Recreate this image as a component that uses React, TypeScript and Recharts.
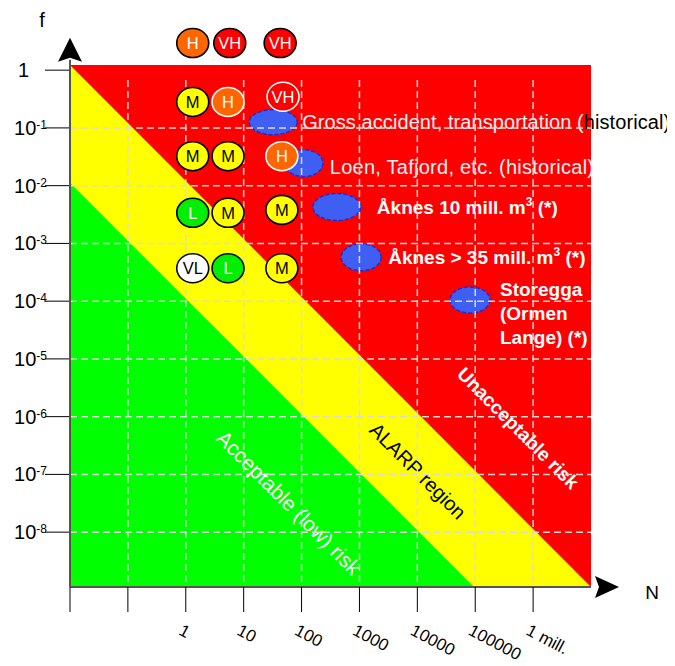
import { Area, ComposedChart, ReferenceDot, ReferenceLine, Scatter, XAxis, YAxis } from "recharts";

const FONT = '"Liberation Sans", Arial, Helvetica, sans-serif';

// both axes are log10 values: x = log10(N), y = log10(f)
const xTicks = [-2, -1, 0, 1, 2, 3, 4, 5, 6];
const xTickLabels = ["", "", "1", "10", "100", "1000", "10000", "100000", "1 mill."];
const yTicks = [0, -1, -2, -3, -4, -5, -6, -7, -8];
const gridLogN = [-1, 0, 1, 2, 3, 4, 5, 6];
const gridLogF = [-1, -2, -3, -4, -5, -6, -7, -8];

const logNMin = -2;
const logNMax = 7;
const logFMin = -8.95;
const logFTop = 0.09; // top edge of the coloured field
const logFChartTop = 0.9;
const logFArrowBase = 0.18;
const gridTop = -0.17;

// boundaries of the three zones
const unacceptableEdge = [
  { logN: -2, logF: 0.09 },
  { logN: 7, logF: 0.09 },
];
const alarpEdge = [
  { logN: -2, logF: 0.09 },
  { logN: 7, logF: -8.95 },
];
const acceptableEdge = [
  { logN: -2, logF: -1.95 },
  { logN: 4.98, logF: -8.95 },
];

// risk matrix bubbles
const riskLevels = ["H", "VH", "VH", "M", "H", "VH", "M", "M", "H", "L", "M", "M", "VL", "L", "M"];
const riskLogN = [0.12, 0.76, 1.63, 0.12, 0.73, 1.68, 0.12, 0.73, 1.66, 0.12, 0.73, 1.66, 0.12, 0.73, 1.66];
const riskLogF = [0.47, 0.47, 0.47, -0.55, -0.55, -0.46, -1.49, -1.49, -1.49, -2.47, -2.47, -2.42, -3.43, -3.43, -3.43];

// scenarios (blue blobs)
const scenarioNames = [
  "Gross accident, transportation (historical)",
  "Loen, Tafjord, etc. (historical)",
  "Åknes 10 mill. m3 (*)",
  "Åknes > 35 mill. m3 (*)",
  "Storegga (Ormen Lange) (*)",
];
const scenarioLogN = [1.51, 2.04, 2.61, 3.03, 4.91];
const scenarioLogF = [-0.9, -1.61, -2.37, -3.24, -3.98];

const regionNames = ["Unacceptable risk", "ALARP region", "Acceptable (low) risk"];
const regionLogN = [5.74, 4.01, 1.78];
const regionLogF = [-6.2, -6.94, -7.49];

const riskData = riskLevels.map((level, i) => ({ level, logN: riskLogN[i], logF: riskLogF[i] }));
const scenarioData = scenarioNames.map((name, i) => ({ name, i, logN: scenarioLogN[i], logF: scenarioLogF[i] }));
const regionData = regionNames.map((name, i) => ({ name, i, logN: regionLogN[i], logF: regionLogF[i] }));

const riskFill: Record<string, string> = { VH: "#ff0000", H: "#ff6600", M: "#ffff00", L: "#00ee00", VL: "#ffffff" };
const riskText: Record<string, string> = { VH: "#ffffff", H: "#ffffff", M: "#000000", L: "#ffffff", VL: "#000000" };

const blobSize = [
  [24, 12.5],
  [19, 13.5],
  [24, 13.5],
  [20, 13.5],
  [20, 13],
];

function RiskBubble(props: any) {
  const { cx, cy, payload } = props;
  const level = payload.level;
  const inField = payload.logF < logFTop && (level === "H" || level === "VH");
  return (
    <g>
      <ellipse cx={cx} cy={cy} rx={16} ry={14.5} fill={riskFill[level]} stroke={inField ? "#ffffff" : "#000000"} strokeWidth={1.6} />
      <text x={cx} y={cy + 6} textAnchor="middle" fontSize={16.5} fontFamily={FONT} fill={riskText[level]}>
        {level}
      </text>
    </g>
  );
}

function ScenarioLabel({ i, cx, cy }: { i: number; cx: number; cy: number }) {
  const regular = { fontFamily: FONT, fontSize: 20, fill: "#f2f2f2" };
  const bold = { fontFamily: FONT, fontSize: 19, fontWeight: 700, fill: "#ffffff" };
  if (i === 0) {
    return (
      <text x={cx + 29} y={cy + 7} letterSpacing={0.08} {...regular}>
        Gross accident, transportation (<tspan fill="#000000">historical)</tspan>
      </text>
    );
  }
  if (i === 1) {
    return (
      <text x={cx + 26} y={cy + 11} letterSpacing={0.25} {...regular}>
        Loen, Tafjord, etc. (historical)
      </text>
    );
  }
  if (i === 2 || i === 3) {
    const head = i === 2 ? "Åknes 10 mill. m" : "Åknes > 35 mill. m";
    return (
      <text x={cx + (i === 2 ? 40 : 27)} y={cy + 7} {...bold}>
        {head}
        <tspan dy={-8} fontSize={12}>3</tspan>
        <tspan dy={8}> (*)</tspan>
      </text>
    );
  }
  return (
    <text x={cx + 30} y={cy - 4} {...bold}>
      <tspan x={cx + 30}>Storegga</tspan>
      <tspan x={cx + 30} dy={24}>(Ormen</tspan>
      <tspan x={cx + 30} dy={24}>Lange) (*)</tspan>
    </text>
  );
}

function ScenarioBlob(props: any) {
  const { cx, cy, payload } = props;
  const [rx, ry] = blobSize[payload.i];
  return (
    <g>
      <ellipse cx={cx} cy={cy} rx={rx} ry={ry} fill="#3f5ff2" stroke="#1530d8" strokeWidth={1.5} strokeDasharray="4 2" />
      <ScenarioLabel i={payload.i} cx={cx} cy={cy} />
    </g>
  );
}

function RegionLabel(props: any) {
  const { cx, cy, payload } = props;
  const styles = [
    { fill: "#ffffff", fontWeight: 700, fontSize: 19 },
    { fill: "#000000", fontWeight: 400, fontSize: 20 },
    { fill: "#ffffff", fontWeight: 400, fontSize: 21 },
  ][payload.i];
  return (
    <text
      transform={`translate(${cx},${cy}) rotate(45)`}
      textAnchor="middle"
      dominantBaseline="central"
      fontFamily={FONT}
      {...styles}
    >
      {payload.name}
    </text>
  );
}

function YTick(props: any) {
  const { x, y, payload } = props;
  if (payload.value === 0) {
    return (
      <text x={x - 14} y={y + 7} textAnchor="end" fontSize={20} fontFamily={FONT} fill="#000">
        1
      </text>
    );
  }
  return (
    <text x={x + 4} y={y + 7} textAnchor="end" fontSize={20} fontFamily={FONT} fill="#000">
      10<tspan dy={-6} fontSize={12}>{payload.value}</tspan>
    </text>
  );
}

function XTick(props: any) {
  const { x, y, payload } = props;
  const label = xTickLabels[xTicks.indexOf(payload.value)];
  return (
    <text transform={`translate(${x - 8},${y + 20}) rotate(28)`} fontSize={17} fontFamily={FONT} fill="#000">
      {label}
    </text>
  );
}

function UpArrow(props: any) {
  const { cx, cy } = props;
  return (
    <g>
      <polygon points={`${cx},${cy - 22} ${cx + 12},${cy + 2} ${cx},${cy - 2} ${cx - 12},${cy + 2}`} fill="#000" />
      <text x={cx - 28} y={cy - 33} textAnchor="middle" fontSize={20} fontFamily={FONT} fill="#000">
        f
      </text>
    </g>
  );
}

function RightArrow(props: any) {
  const { cx, cy } = props;
  return (
    <g>
      <polygon points={`${cx + 4},${cy - 11} ${cx + 28},${cy} ${cx + 4},${cy + 11} ${cx + 8},${cy}`} fill="#000" />
      <text x={cx + 61} y={cy + 12} textAnchor="middle" fontSize={19} fontFamily={FONT} fill="#000">
        N
      </text>
    </g>
  );
}

const gridStroke = { stroke: "#dadada", strokeWidth: 1.5, strokeDasharray: "7 4" };

export default function App() {
  return (
    <div style={{ width: 667, height: 658, fontFamily: FONT }}>
      <ComposedChart width={667} height={658} margin={{ top: 10.2, right: 84, bottom: 9, left: 12 }}>
        <XAxis
          type="number"
          dataKey="logN"
          domain={[logNMin, logNMax]}
          ticks={xTicks}
          interval={0}
          height={70}
          tickSize={25}
          tick={<XTick />}
          axisLine={{ stroke: "#555", strokeWidth: 2 }}
          tickLine={{ stroke: "#000", strokeWidth: 1 }}
        />
        <YAxis
          type="number"
          dataKey="logF"
          domain={[logFMin, logFChartTop]}
          ticks={yTicks}
          interval={0}
          width={50}
          tickSize={25}
          tick={<YTick />}
          axisLine={false}
          tickLine={{ stroke: "#000", strokeWidth: 1 }}
        />

        <Area data={unacceptableEdge} dataKey="logF" type="linear" baseValue={logFMin} fill="#ff0000" fillOpacity={1} stroke="none" isAnimationActive={false} />
        <Area data={alarpEdge} dataKey="logF" type="linear" baseValue={logFMin} fill="#ffff00" fillOpacity={1} stroke="none" isAnimationActive={false} />
        <Area data={acceptableEdge} dataKey="logF" type="linear" baseValue={logFMin} fill="#00ff00" fillOpacity={1} stroke="none" isAnimationActive={false} />

        <Scatter data={regionData} dataKey="logF" shape={<RegionLabel />} isAnimationActive={false} zIndex={200} />
        <Scatter data={scenarioData} dataKey="logF" shape={<ScenarioBlob />} isAnimationActive={false} zIndex={200} />

        {gridLogF.map((v) => (
          <ReferenceLine key={`h${v}`} segment={[{ x: logNMin, y: v }, { x: logNMax, y: v }]} {...gridStroke} zIndex={300} />
        ))}
        {gridLogN.map((v) => (
          <ReferenceLine key={`v${v}`} segment={[{ x: v, y: gridTop }, { x: v, y: logFMin }]} {...gridStroke} zIndex={300} />
        ))}

        <Scatter data={riskData} dataKey="logF" shape={<RiskBubble />} isAnimationActive={false} zIndex={700} />

        <ReferenceLine segment={[{ x: logNMin, y: logFMin }, { x: logNMin, y: logFArrowBase }]} stroke="#4f5a3c" strokeWidth={2} zIndex={800} />
        <ReferenceDot x={logNMin} y={logFArrowBase} shape={<UpArrow />} zIndex={800} />
        <ReferenceDot x={logNMax} y={logFMin} shape={<RightArrow />} zIndex={800} />
      </ComposedChart>
    </div>
  );
}
